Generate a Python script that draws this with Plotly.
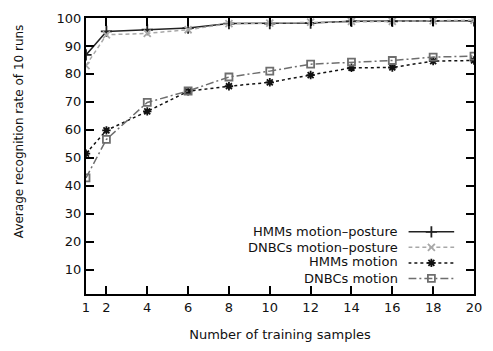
import plotly.graph_objects as go

samples = [1, 2, 4, 6, 8, 10, 12, 14, 16, 18, 20]
hmm_mp = [86.8, 95.2, 95.8, 96.4, 98.0, 98.0, 98.2, 98.8, 98.8, 99.0, 99.0]
dnbc_mp = [83.0, 94.0, 94.5, 95.8, 98.0, 98.2, 98.5, 98.8, 98.8, 99.0, 99.2]
hmm_m = [51.5, 59.8, 66.6, 73.8, 75.6, 77.0, 79.6, 82.2, 82.3, 84.6, 84.8]
dnbc_m = [42.8, 56.6, 69.8, 73.9, 78.9, 81.0, 83.5, 84.2, 84.8, 86.0, 86.4]
names = ["HMMs motion\u2013posture", "DNBCs motion\u2013posture", "HMMs motion", "DNBCs motion"]
x_ticks = [1, 2, 4, 6, 8, 10, 12, 14, 16, 18, 20]
y_ticks = [10, 20, 30, 40, 50, 60, 70, 80, 90, 100]

styles = [
    dict(color="#222222", dash="solid", symbol="cross-thin-open", size=8),
    dict(color="#a8a8a8", dash="4px,3px", symbol="x-thin-open", size=7),
    dict(color="#111111", dash="3px,3px", symbol="asterisk-open", size=7),
    dict(color="#6e6e6e", dash="8px,3px,2px,3px", symbol="square-open", size=7),
]
series = [hmm_mp, dnbc_mp, hmm_m, dnbc_m]

W, H = 493, 351
L, R, T, B = 86, 482, 13, 297
def px(xp):
    return (xp - L) / (R - L)
def py(yp):
    return (B - yp) / (B - T)

FONT = "DejaVu Sans, Verdana, sans-serif"

fig = go.Figure()
for ys, st in zip(series, styles):
    fig.add_trace(go.Scatter(
        x=samples, y=ys, mode="lines+markers", showlegend=False,
        line=dict(color=st["color"], dash=st["dash"], width=1.5),
        marker=dict(symbol=st["symbol"], size=st["size"], color=st["color"],
                    line=dict(color=st["color"], width=1.8)),
    ))

# legend samples (right of text, gnuplot style) on an overlay axis
leg_rows = [233, 249, 264, 281]
for i, st in enumerate(styles):
    fig.add_trace(go.Scatter(
        x=[0, 1], y=[3 - i, 3 - i], mode="lines", showlegend=False,
        xaxis="x2", yaxis="y2",
        line=dict(color=st["color"], dash=st["dash"], width=1.5),
    ))
    fig.add_trace(go.Scatter(
        x=[0.5], y=[3 - i], mode="markers", showlegend=False,
        xaxis="x2", yaxis="y2",
        marker=dict(symbol=st["symbol"], size=st["size"], color=st["color"],
                    line=dict(color=st["color"], width=1.8)),
    ))
    fig.add_annotation(
        x=px(406), y=py(leg_rows[i]), xref="paper", yref="paper", text=names[i],
        showarrow=False, xanchor="right", yanchor="middle",
        font=dict(size=13, color="#111111", family=FONT),
    )

axis_common = dict(
    showline=True, linecolor="black", linewidth=2, mirror="ticks",
    ticks="inside", ticklen=8, tickwidth=1.5, tickcolor="black",
    showgrid=False, zeroline=False,
    tickfont=dict(size=13, color="#111111", family=FONT),
)

fig.update_layout(
    width=W, height=H,
    margin=dict(l=L, r=W - R, t=T, b=H - B),
    paper_bgcolor="white", plot_bgcolor="white",
    font=dict(family=FONT, color="#111111"),
    xaxis=dict(range=[1, 20], tickvals=x_ticks, ticktext=[str(v) for v in x_ticks],
               title=dict(text="Number of training samples", font=dict(size=13), standoff=16),
               **axis_common),
    yaxis=dict(range=[1.3, 100], tickvals=y_ticks, ticktext=[str(v) for v in y_ticks],
               **axis_common),
    xaxis2=dict(domain=[px(415), px(462)], range=[0, 1], anchor="y2",
                visible=False, fixedrange=True),
    yaxis2=dict(domain=[py(289), py(225)], range=[-0.5, 3.5], anchor="x2",
                visible=False, fixedrange=True),
)

fig.add_annotation(
    x=(17 - L) / (R - L), y=(B - 129) / (B - T), xref="paper", yref="paper",
    text="Average recognition rate of 10 runs",
    textangle=-90, showarrow=False, font=dict(size=12, color="#111111", family=FONT),
    xanchor="center", yanchor="middle",
)

fig.write_html("out.html")
